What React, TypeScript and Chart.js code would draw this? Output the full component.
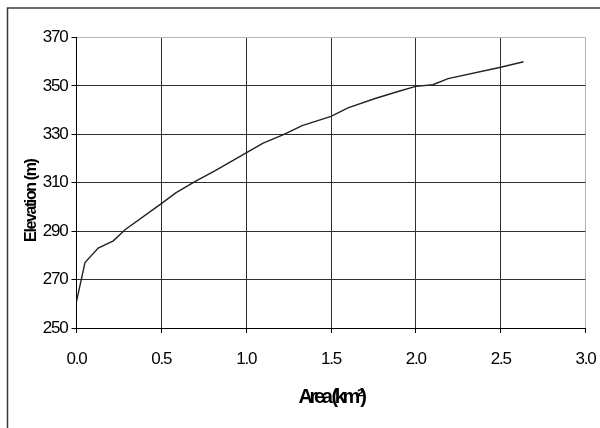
import React, { useEffect, useRef } from 'react';
import { Chart, registerables } from 'chart.js';

Chart.register(...registerables);

// Area (km²) vs elevation (m)
const areaKm2 = [0, 0.05, 0.128, 0.217, 0.286, 0.5, 0.585, 0.7, 0.81, 1.0, 1.1, 1.22, 1.33, 1.5, 1.6, 1.76, 1.9, 2.0, 2.1, 2.19, 2.5, 2.635];
const elevationM = [261, 277, 283, 286, 290.6, 301.4, 305.8, 310.6, 314.7, 322.3, 326.4, 329.9, 333.6, 337.4, 340.9, 344.8, 347.8, 349.8, 350.5, 353, 357.7, 360];

const xMin = 0;
const xMax = 3;
const xStep = 0.5;
const yMin = 250;
const yMax = 370;
const yStep = 20;

const xTitle = 'Area (km²)';
const yTitle = 'Elevation (m)';

const FONT = "'Liberation Sans', Arial, sans-serif";

function patchTitle(s: any, spacing: string, dy: number) {
  if (!s || s._titlePatched) return;
  const orig = s.drawTitle;
  s.drawTitle = function (...args: any[]) {
    const c = this.ctx;
    c.save();
    (c as any).letterSpacing = spacing;
    c.translate(0, dy);
    orig.apply(this, args);
    c.restore();
  };
  s._titlePatched = true;
}

export default function App() {
  const ref = useRef<HTMLCanvasElement>(null);

  useEffect(() => {
    const canvas = ref.current;
    if (!canvas) return;

    const framePlugin = {
      id: 'frame',
      afterLayout(chart: any) {
        patchTitle(chart.scales.x, '-3.4px', 0);
        patchTitle(chart.scales.y, '-1.4px', 18);
      },
      beforeDraw(chart: any) {
        const c = chart.ctx;
        c.save();
        c.strokeStyle = '#3a3a3a';
        c.lineWidth = 1.5;
        c.beginPath();
        c.moveTo(7.5, 428);
        c.lineTo(7.5, 8);
        c.lineTo(600, 8);
        c.stroke();
        c.restore();
        (c as any).letterSpacing = '-1.2px';
      },
    };

    const chart = new Chart(canvas, {
      type: 'line',
      data: {
        datasets: [
          {
            data: areaKm2.map((x, i) => ({ x, y: elevationM[i] })),
            borderColor: '#222',
            borderWidth: 1.4,
            pointRadius: 0,
            tension: 0,
            fill: false,
          },
        ],
      },
      options: {
        animation: false,
        responsive: false,
        devicePixelRatio: 1,
        layout: { padding: { left: 0, top: 37.5, right: 14.5, bottom: 0 } },
        plugins: { legend: { display: false }, tooltip: { enabled: false } },
        scales: {
          x: {
            type: 'linear',
            min: xMin,
            max: xMax,
            afterFit: (s: any) => {
              s.height = 100;
              s.paddingRight = 0;
              s.paddingLeft = 0;
            },
            ticks: {
              stepSize: xStep,
              color: '#000',
              padding: 16,
              font: { family: FONT, size: 17 },
              callback: (v: any) => Number(v).toFixed(1),
            },
            grid: {
              color: (ctx: any) => (ctx.tick && ctx.tick.value === xMax ? '#b4b4b4' : '#2e2e2e'),
              tickColor: '#000',
              tickLength: 5,
              lineWidth: 1,
            },
            border: { color: '#000', width: 1 },
            title: {
              display: true,
              text: xTitle,
              color: '#000',
              font: { family: FONT, size: 20, weight: 'bold' },
              padding: { top: 0, bottom: 18.5 },
            },
          },
          y: {
            type: 'linear',
            min: yMin,
            max: yMax,
            afterFit: (s: any) => {
              s.width = 76.5;
            },
            ticks: {
              stepSize: yStep,
              color: '#000',
              padding: 4,
              font: { family: FONT, size: 17 },
            },
            grid: {
              color: (ctx: any) => (ctx.tick && ctx.tick.value === yMax ? '#b4b4b4' : '#2e2e2e'),
              tickColor: '#000',
              tickLength: 5,
              lineWidth: 1,
            },
            border: { color: '#000', width: 1 },
            title: {
              display: true,
              text: yTitle,
              color: '#000',
              font: { family: FONT, size: 16, weight: 'bold' },
              padding: { top: 22, bottom: 0 },
            },
          },
        },
      },
      plugins: [framePlugin],
    } as any);

    return () => chart.destroy();
  }, []);

  return (
    <div style={{ position: 'absolute', left: 0, top: 0, width: 600, height: 428, background: '#fff' }}>
      <canvas ref={ref} width={600} height={428} style={{ display: 'block' }} />
    </div>
  );
}
